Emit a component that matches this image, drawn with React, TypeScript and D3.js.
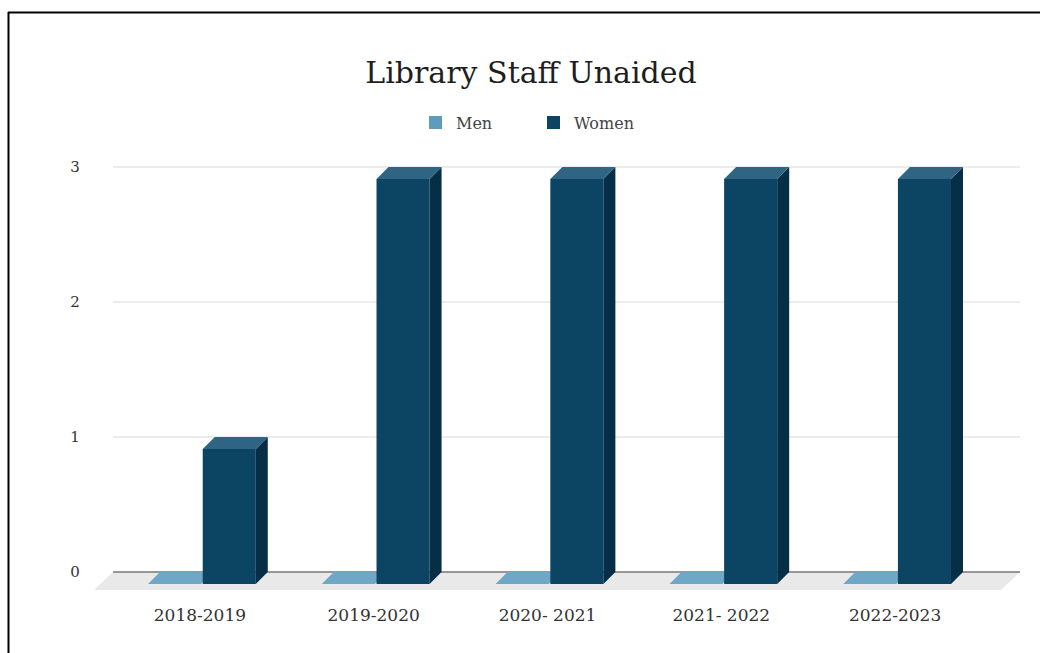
import React from "react";
import * as d3 from "d3";

const categories = ["2018-2019", "2019-2020", "2020- 2021", "2021- 2022", "2022-2023"];
const seriesNames = ["Men", "Women"];
const menValues = [0, 0, 0, 0, 0];
const womenValues = [1, 3, 3, 3, 3];
const yTicks = [0, 1, 2, 3];
const title = "Library Staff Unaided";

const W = 1040;
const H = 653;
const FONT = "'DejaVu Serif', Georgia, serif";

const colors: Record<string, { front: string; side: string; top: string }> = {
  Men: { front: "#5f9cbc", side: "#3f7d9c", top: "#6ea8c6" },
  Women: { front: "#0c4564", side: "#062f47", top: "#2f6583" },
};

export default function App() {
  const depthX = 12;
  const depthY = 12;
  const yBack = d3.scaleLinear().domain([0, 3]).range([572, 167]);
  const x0 = d3
    .scaleBand<string>()
    .domain(categories)
    .range([115, 984])
    .paddingInner(0.38)
    .paddingOuter(0.19);
  const x1 = d3
    .scaleBand<string>()
    .domain(seriesNames)
    .range([0, x0.bandwidth()])
    .paddingInner(0.03);

  const gridLeft = 113;
  const gridRight = 1020;
  const floorDX = 19;
  const floorDY = 18;

  const rows = categories.map((c, i) => ({
    cat: c,
    vals: [
      { s: "Men", v: menValues[i] },
      { s: "Women", v: womenValues[i] },
    ],
  }));

  const bars: React.ReactNode[] = [];
  rows.forEach((r, ci) => {
    r.vals.forEach((d) => {
      const xl = (x0(r.cat) ?? 0) + (x1(d.s) ?? 0);
      const w = x1.bandwidth();
      const xr = xl + w;
      const yTopF = yBack(d.v) + depthY;
      const yBotF = yBack(0) + depthY;
      const col = colors[d.s];
      const top = `M${xl},${yTopF} L${xl + depthX},${yTopF - depthY} L${xr + depthX},${yTopF - depthY} L${xr},${yTopF} Z`;
      if (d.v === 0) {
        bars.push(<path key={`${ci}-${d.s}-t`} d={top} fill={col.top} />);
      } else {
        const side = `M${xr},${yTopF} L${xr + depthX},${yTopF - depthY} L${xr + depthX},${yBotF - depthY} L${xr},${yBotF} Z`;
        bars.push(
          <g key={`${ci}-${d.s}`}>
            <rect x={xl} y={yTopF} width={w} height={yBotF - yTopF} fill={col.front} />
            <path d={side} fill={col.side} />
            <path d={top} fill={col.top} />
          </g>
        );
      }
    });
  });

  const floor = `M${gridLeft},${yBack(0)} L${gridRight},${yBack(0)} L${gridRight - floorDX},${yBack(0) + floorDY} L${gridLeft - floorDX},${yBack(0) + floorDY} Z`;

  const legendItems = [
    { s: "Men", x: 429 },
    { s: "Women", x: 547 },
  ];

  return (
    <svg
      width={W}
      height={H}
      style={{ position: "absolute", left: 0, top: 0, background: "#fff" }}
    >
      <rect x={0} y={0} width={W} height={H} fill="#fff" />
      <line x1={8} y1={12.5} x2={W} y2={12.5} stroke="#000" strokeWidth={2} />
      <line x1={8.5} y1={12} x2={8.5} y2={H} stroke="#000" strokeWidth={2} />

      <text x={531} y={83} textAnchor="middle" fontFamily={FONT} fontSize={30} fill="#1e1e1e">
        {title}
      </text>

      {legendItems.map((l) => (
        <g key={l.s}>
          <rect x={l.x} y={116} width={13} height={13} fill={colors[l.s].front} />
          <text x={l.x + 27} y={128.5} fontFamily={FONT} fontSize={16} fill="#444">
            {l.s}
          </text>
        </g>
      ))}

      {yTicks
        .filter((t) => t > 0)
        .map((t) => (
          <line key={t} x1={gridLeft} x2={gridRight} y1={yBack(t)} y2={yBack(t)} stroke="#d9d9d9" strokeWidth={1} />
        ))}
      {yTicks.map((t) => (
        <text key={t} x={75} y={yBack(t) + 5} textAnchor="middle" fontFamily={FONT} fontSize={15} fill="#333">
          {t}
        </text>
      ))}

      <path d={floor} fill="#e9e9e9" />
      <line x1={gridLeft} x2={gridRight} y1={yBack(0)} y2={yBack(0)} stroke="#777" strokeWidth={1.5} />

      {bars}

      {categories.map((c) => (
        <text
          key={c}
          x={(x0(c) ?? 0) + x0.bandwidth() / 2 - 2}
          y={621}
          textAnchor="middle"
          fontFamily={FONT}
          fontSize={17}
          fill="#333"
        >
          {c}
        </text>
      ))}
    </svg>
  );
}
